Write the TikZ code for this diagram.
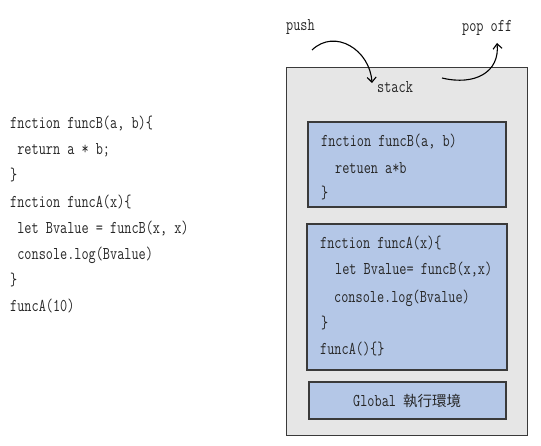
\documentclass[tikz,border=0pt]{standalone}
\usepackage{fontspec}
\newfontfamily\cjk{Noto Sans CJK TC}
\newfontfamily\codefont[FakeStretch=0.77]{Latin Modern Mono}
\usetikzlibrary{arrows.meta}
\definecolor{stackgray}{HTML}{E6E6E6}
\definecolor{boxblue}{HTML}{B4C7E7}
\definecolor{edgegray}{HTML}{3A3A3A}
\tikzset{
  code/.style={anchor=base west, inner sep=0pt, font=\codefont\fontsize{18}{20}\selectfont, text=black!85},
  stackbox/.style={draw=edgegray, fill=stackgray, line width=1pt},
  framebox/.style={draw=edgegray, fill=boxblue, line width=1.1pt},
  curvearrow/.style={line width=1.1pt, -{Straight Barb[length=5pt,width=9pt]}},
}
\begin{document}
\begin{tikzpicture}[x=1pt,y=-1pt]
\useasboundingbox (0,0) rectangle (541,446);
% left code
\node[code] (l1) at (10,128.5) {fnction funcB(a, b)\{};
\node[code] (l2) at (10,154.7) {\ return a * b;};
\node[code] (l3) at (10,180.9) {\}};
\node[code] (l4) at (10,207.1) {fnction funcA(x)\{};
\node[code] (l5) at (10,233.3) {\ let Bvalue = funcB(x, x)};
\node[code] (l6) at (10,259.5) {\ console.log(Bvalue)};
\node[code] (l7) at (10,285.7) {\}};
\node[code] (l8) at (10,311.9) {funcA(10)};
% stack
\draw[stackbox] (286,68) rectangle (527,435);
\node[code] (stack) at (377,92.5) {stack};
\node[code] (push) at (286,30.5) {push};
\node[code] (pop) at (462,31.5) {pop off};
% frame B
\draw[framebox] (308,122) rectangle (506,207);
\node[code] (b1) at (321,146.5) {fnction funcB(a, b)};
\node[code] (b2) at (335,173.5) {retuen a*b};
\node[code] (b3) at (321,198.5) {\}};
% frame A
\draw[framebox] (307,224) rectangle (507,370);
\node[code] (a1) at (320,248.5) {fnction funcA(x)\{};
\node[code] (a2) at (335,274.5) {let Bvalue= funcB(x,x)};
\node[code] (a3) at (334,302.5) {console.log(Bvalue)};
\node[code] (a4) at (321,328.5) {\}};
\node[code] (a5) at (320,354.5) {funcA()\{\}};
% global
\draw[framebox] (309,382) rectangle (506,419);
\node[code] (g) at (353,406.5) {Global {\cjk\fontsize{14.5}{16}\selectfont 執行環境}};
% arrows
\coordinate (pushs) at (312,50);
\coordinate (pushe) at (372,83);
\coordinate (pops) at (442,78);
\coordinate (pope) at (497,43);
\draw[curvearrow] (pushs) .. controls (335,28) and (370,50) .. (pushe);
\draw[curvearrow] (pops) .. controls (475,86) and (500,72) .. (pope);
\end{tikzpicture}
\end{document}
